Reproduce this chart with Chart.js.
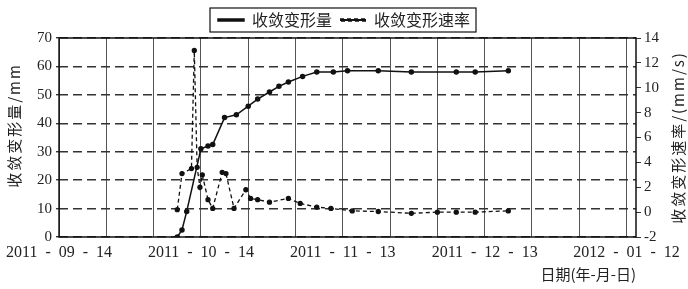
<!DOCTYPE html>
<html>
<head>
<meta charset="utf-8">
<script src="https://cdn.jsdelivr.net/npm/chart.js@4.4.1/dist/chart.umd.min.js"></script>
<style>
  html, body { margin: 0; padding: 0; background: #fff; }
  #box { width: 688px; height: 289px; }
</style>
</head>
<body>
<div id="box"><canvas id="grafico"></canvas></div>
<script>
// dias contados a partir de 2011-09-14
const diasDeformacao = [25, 26, 27, 30, 31.5, 32.5, 35, 37.5, 40, 42, 44.5, 46.5, 48.5, 51.5, 54.5, 58, 61, 67.5, 74.5, 84, 88, 95];
const deformacao = [0, 2.5, 9, 31, 32, 32.5, 42, 43, 46, 48.5, 51, 53, 54.5, 56.5, 58, 58, 58.5, 58.5, 58, 58, 58, 58.5];

const diasVelocidade = [25, 26, 28, 28.6, 29.2, 29.8, 30.3, 31.5, 32.5, 34.5, 35.3, 37, 39.5, 40.5, 42, 44.5, 48.5, 51, 54.5, 57.5, 62, 67.5, 74.5, 80, 84, 88, 95];
const velocidade = [0.2, 3.1, 3.5, 13, 3.6, 2.0, 3.0, 1.0, 0.3, 3.2, 3.1, 0.3, 1.8, 1.1, 1.0, 0.8, 1.1, 0.7, 0.4, 0.3, 0.1, 0.05, -0.1, 0, 0, 0, 0.1];

const rotulosData = ['2011  -  09  -  14', '2011  -  10  -  14', '2011  -  11  -  13', '2011  -  12  -  13', '2012  -  01  -  12'];
const diasGrade = [0, 10, 20, 30, 40, 50, 60, 70, 80, 90, 100, 110, 120];

const fonteNum = "'Liberation Serif', 'Noto Sans CJK SC', serif";
const fonteCJK = "'Noto Sans CJK SC', 'Liberation Serif', serif";

// Função para escrever título vertical (de baixo para cima)
function tituloVertical(ctx, texto, x, y) {
  ctx.save();
  ctx.translate(x, y);
  ctx.rotate(-Math.PI / 2);
  ctx.fillStyle = '#222';
  ctx.font = "15px " + fonteCJK;
  ctx.letterSpacing = '2px';
  ctx.textAlign = 'center';
  ctx.textBaseline = 'middle';
  ctx.fillText(texto, 0, 0);
  ctx.restore();
}

// Moldura do gráfico e da legenda, e títulos dos eixos y
const moldura = {
  id: 'moldura',
  afterDraw(chart) {
    const ctx = chart.ctx;
    const a = chart.chartArea;
    ctx.save();
    ctx.strokeStyle = '#111';
    ctx.lineWidth = 1.5;
    ctx.strokeRect(a.left, a.top, a.right - a.left, a.bottom - a.top);

    const lg = chart.legend;
    if (lg && lg.legendHitBoxes && lg.legendHitBoxes.length) {
      const caixas = lg.legendHitBoxes;
      const x1 = caixas[0].left - 8;
      const ult = caixas[caixas.length - 1];
      const x2 = ult.left + ult.width + 6;
      ctx.lineWidth = 1.2;
      ctx.strokeRect(x1, caixas[0].top - 4, x2 - x1, caixas[0].height + 8);
    }
    ctx.restore();

    const meio = (a.top + a.bottom) / 2;
    tituloVertical(ctx, '收敛变形量/mm', 14, meio - 12);
    tituloVertical(ctx, '收敛变形速率/(mm/s)', 678, meio);
  }
};

new Chart(document.getElementById('grafico'), {
  type: 'line',
  data: {
    datasets: [
      {
        label: '收敛变形量',
        data: diasDeformacao.map((d, i) => ({ x: d, y: deformacao[i] })),
        borderColor: '#111',
        backgroundColor: '#111',
        borderWidth: 1.5,
        pointRadius: 2,
        pointStyle: 'circle',
        tension: 0,
        yAxisID: 'y'
      },
      {
        label: '收敛变形速率',
        data: diasVelocidade.map((d, i) => ({ x: d, y: velocidade[i] })),
        borderColor: '#111',
        backgroundColor: '#111',
        borderWidth: 1.3,
        borderDash: [4, 3],
        pointRadius: 2,
        pointStyle: 'circle',
        tension: 0,
        yAxisID: 'y1'
      }
    ]
  },
  options: {
    responsive: true,
    maintainAspectRatio: false,
    animation: false,
    layout: { padding: { top: 4, left: 0, right: 0, bottom: 6 } },
    plugins: {
      legend: {
        display: true,
        position: 'top',
        labels: {
          color: '#222',
          font: { family: fonteCJK, size: 16 },
          boxWidth: 26,
          boxHeight: 2,
          padding: 8
        }
      },
      tooltip: { enabled: false }
    },
    scales: {
      x: {
        type: 'linear',
        min: 0,
        max: 122,
        border: { display: false },
        grid: { color: '#555', lineWidth: 1, drawTicks: false },
        afterBuildTicks: (s) => { s.ticks = diasGrade.map(v => ({ value: v })); },
        ticks: {
          autoSkip: false,
          maxRotation: 0,
          color: '#222',
          padding: 6,
          font: { family: fonteNum, size: 16 },
          callback: (v) => (v % 30 === 0 ? rotulosData[v / 30] : '')
        },
        title: {
          display: true,
          text: '日期(年-月-日)',
          align: 'end',
          color: '#222',
          font: { family: fonteCJK, size: 15 },
          padding: { top: 0, bottom: 0 }
        },
        afterFit: (s) => { s.height = 46; }
      },
      y: {
        position: 'left',
        min: 0,
        max: 70,
        border: { display: false, dash: [9, 5] },
        grid: { color: '#333', lineWidth: 1.4, tickLength: 3 },
        ticks: { stepSize: 10, color: '#222', padding: 4, font: { family: fonteNum, size: 15 } },
        afterFit: (s) => { s.width = 58; }
      },
      y1: {
        position: 'right',
        min: -2,
        max: 14,
        border: { display: false },
        grid: { drawOnChartArea: false, color: '#333', tickLength: 5 },
        ticks: { stepSize: 2, color: '#222', padding: 3, font: { family: fonteNum, size: 15 } },
        afterFit: (s) => { s.width = 52; }
      }
    }
  },
  plugins: [moldura]
});
</script>
</body>
</html>
